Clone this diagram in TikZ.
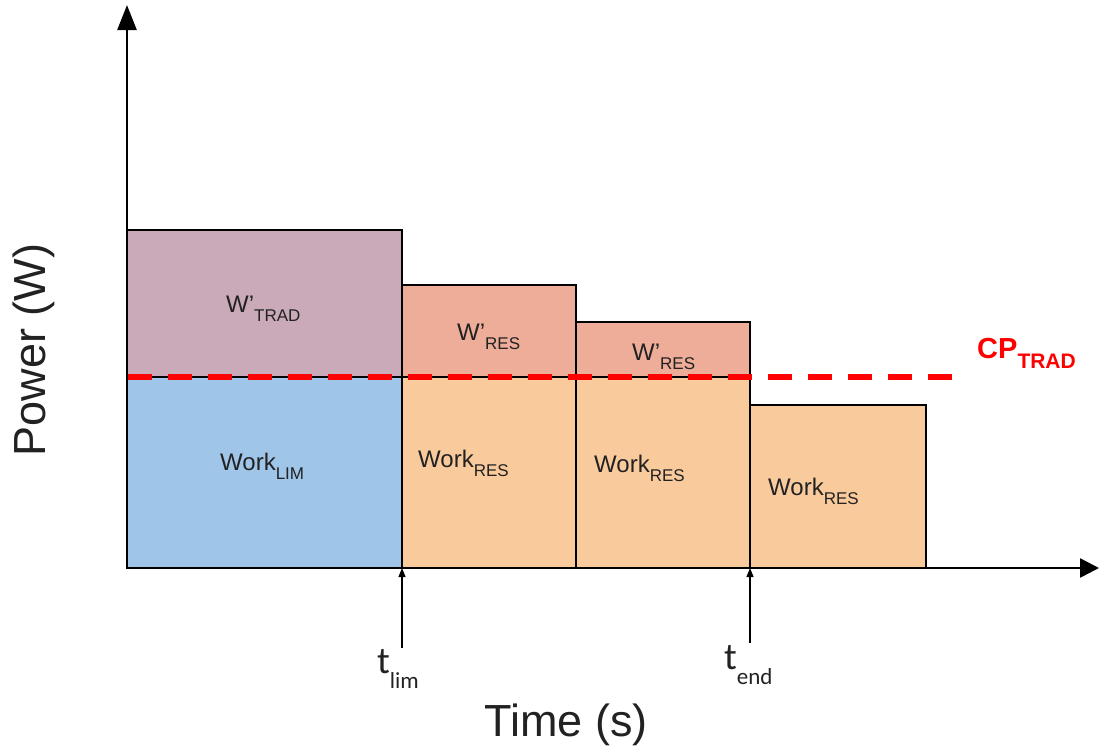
\documentclass[tikz,border=0pt]{standalone}
\usepackage{fontspec}
\setmainfont{Liberation Sans}
\newfontfamily\calib{Carlito}
\usetikzlibrary{arrows.meta}
\definecolor{cpurple}{HTML}{CAAAB9}
\definecolor{csalmon}{HTML}{EEAD98}
\definecolor{cblue}{HTML}{9FC5E8}
\definecolor{corange}{HTML}{F9CB9C}
\definecolor{cpred}{HTML}{FF0000}
\definecolor{ctext}{HTML}{222222}
\newcommand{\lbl}[2]{\fontsize{24}{24}\selectfont #1\raisebox{-9pt}{\fontsize{17}{17}\selectfont #2}}
\newcommand{\tlbl}[2]{\calib\fontsize{38}{38}\selectfont #1\raisebox{-15pt}{\fontsize{23}{23}\selectfont #2}}
\begin{document}
\begin{tikzpicture}[x=1pt,y=-1pt,
  box/.style={draw=black,line width=1.5pt},
  lab/.style={anchor=base west,inner sep=0pt,text=ctext},
  axis/.style={line width=2.5pt,draw=black},
  tarrow/.style={line width=1.2pt,-{Triangle[length=9pt,width=7pt]}},
  cpline/.style={draw=cpred,line width=5.5pt,dash pattern=on 24pt off 16pt}]
\useasboundingbox (0,0) rectangle (1099,753);
% bars
\path[box,fill=cpurple] (127,230) rectangle (402,377);
\path[box,fill=cblue] (127,377) rectangle (402,568);
\path[box,fill=csalmon] (402,285) rectangle (576,377);
\path[box,fill=corange] (402,377) rectangle (576,568);
\path[box,fill=csalmon] (576,322) rectangle (750,377);
\path[box,fill=corange] (576,377) rectangle (750,568);
\path[box,fill=corange] (750,405) rectangle (926,568);
% axes
\coordinate (O) at (127,568);
\coordinate (ytop) at (127,5);
\coordinate (xend) at (1099,568);
\draw[axis,-{Triangle[length=25pt,width=19pt]}] (O) -- (ytop);
\draw[axis,-{Triangle[length=19pt,width=19pt]}] (O) -- (xend);
% CP line
\coordinate (cpL) at (128,377);
\coordinate (cpR) at (962,377);
\draw[cpline] (cpL) -- (cpR);
\node[anchor=base west,inner sep=0pt,text=cpred,font=\bfseries] (cp) at (977,358)
  {\fontsize{29}{29}\selectfont CP\raisebox{-10pt}{\fontsize{21}{21}\selectfont TRAD}};
% labels
\node[lab] (wtrad) at (226,312) {\lbl{W'}{TRAD}};
\node[lab] (wres1) at (457,340) {\lbl{W'}{RES}};
\node[lab] (wres2) at (632,360) {\lbl{W'}{RES}};
\node[lab] (wlim) at (220,470) {\lbl{Work}{LIM}};
\node[lab] (wr1) at (418,467) {\lbl{Work}{RES}};
\node[lab] (wr2) at (594,472) {\lbl{Work}{RES}};
\node[lab] (wr3) at (768,495) {\lbl{Work}{RES}};
% time markers
\coordinate (tlimS) at (402,648);
\coordinate (tlimE) at (402,568);
\coordinate (tendS) at (750,643);
\coordinate (tendE) at (750,568);
\draw[tarrow] (tlimS) -- (tlimE);
\draw[tarrow] (tendS) -- (tendE);
\node[lab] (tlim) at (377,673) {\tlbl{t}{lim}};
\node[lab] (tend) at (724,669) {\tlbl{t}{end}};
% axis titles
\node[anchor=base,inner sep=0pt,text=ctext,font=\fontsize{45}{45}\selectfont] (xt) at (566,736) {Time (s)};
\node[anchor=base,inner sep=0pt,text=ctext,rotate=90,font=\fontsize{45}{45}\selectfont] (yt) at (45,350) {Power (W)};
\end{tikzpicture}
\end{document}
